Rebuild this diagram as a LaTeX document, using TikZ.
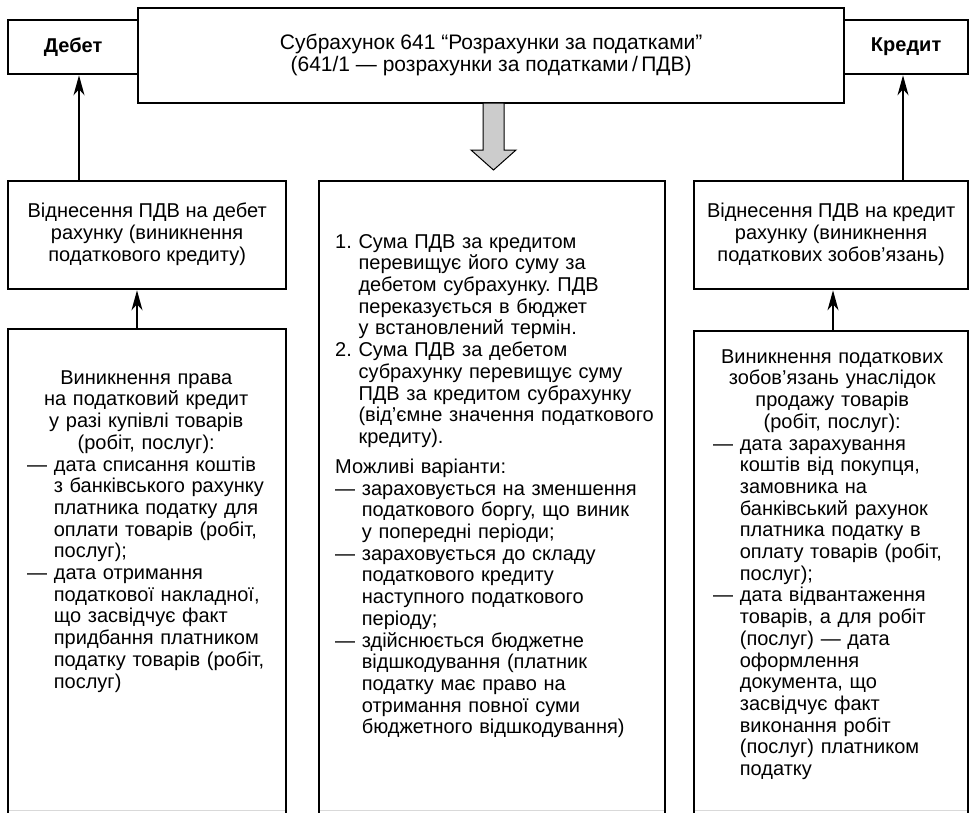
\documentclass[tikz,border=0pt]{standalone}
\usepackage{fontspec}
\setmainfont{Liberation Sans}
\usetikzlibrary{arrows.meta}
\frenchspacing
\begin{document}
\begin{tikzpicture}[x=1pt,y=-1pt,
  box/.style={draw=black,line width=2.3pt,fill=white,inner sep=0pt,anchor=north west,
    font=\fontsize{20}{21.7}\selectfont\frenchspacing,align=center},
  lbl/.style={inner sep=0pt,anchor=north west,align=left,
    font=\fontsize{20}{21.7}\selectfont\frenchspacing},
  conn/.style={line width=1.3pt,-{Stealth[length=20pt,width=11pt,inset=6pt]}},
  bigarrow/.style={draw=black,line width=1pt,fill=black!20,line join=miter},
  cutedge/.style={draw=black!15,line width=1pt}
]
\useasboundingbox (0,0) rectangle (971,812);

% top row
\node[box,minimum width=130pt,minimum height=54pt,font=\fontsize{20}{21.7}\selectfont\bfseries] (debet) at (7,19) {Дебет};
\node[box,minimum width=124pt,minimum height=54pt,font=\fontsize{20}{21.7}\selectfont\bfseries] (kredit) at (843,19) {Кредит};
\node[box,minimum width=706pt,minimum height=95pt,font=\fontsize{21}{22}\selectfont] (main) at (137,7)
  {\strut Субрахунок 641 “Розрахунки за податками”\\(641/1 — розрахунки за податками\,/\,ПДВ)\strut};

% second row
\node[box,minimum width=278pt,minimum height=108pt] (lb2) at (7,180)
  {\strut Віднесення ПДВ на дебет\\рахунку (виникнення\\податкового кредиту)\strut};
\node[box,minimum width=274pt,minimum height=108pt] (rb2) at (693,180)
  {\strut Віднесення ПДВ на кредит\\рахунку (виникнення\\податкових зобов’язань)\strut};

% tall boxes (cut by the lower edge)
\node[box,minimum width=278pt,minimum height=500pt] (lb3) at (7,328) {};
\node[box,minimum width=346pt,minimum height=650pt] (mb) at (318,180) {};
\node[box,minimum width=274pt,minimum height=500pt] (rb3) at (693,330) {};
\draw[cutedge] ([xshift=2pt]lb3.west |- 0,810.5) -- ([xshift=-2pt]lb3.east |- 0,810.5);
\draw[cutedge] ([xshift=2pt]mb.west |- 0,810.5) -- ([xshift=-2pt]mb.east |- 0,810.5);
\draw[cutedge] ([xshift=2pt]rb3.west |- 0,810.5) -- ([xshift=-2pt]rb3.east |- 0,810.5);

% texts in tall boxes
\node[lbl,text width=262pt] (lt) at (27,368.8) {%
\strut\makebox[238pt]{Виникнення права}\\
\makebox[238pt]{на податковий кредит}\\
\makebox[238pt]{у разі купівлі товарів}\\
\makebox[238pt]{(робіт, послуг):}\\
— дата списання коштів\\
\hphantom{— }з банківського рахунку\\
\hphantom{— }платника податку для\\
\hphantom{— }оплати товарів (робіт,\\
\hphantom{— }послуг);\\
— дата отримання\\
\hphantom{— }податкової накладної,\\
\hphantom{— }що засвідчує факт\\
\hphantom{— }придбання платником\\
\hphantom{— }податку товарів (робіт,\\
\hphantom{— }послуг)};

\node[lbl,text width=325pt] (mt) at (335,232.8) {%
\strut 1. Сума ПДВ за кредитом\\
\hphantom{1. }перевищує його суму за\\
\hphantom{1. }дебетом субрахунку. ПДВ\\
\hphantom{1. }переказується в бюджет\\
\hphantom{1. }у встановлений термін.\\
2. Сума ПДВ за дебетом\\
\hphantom{1. }субрахунку перевищує суму\\
\hphantom{1. }ПДВ за кредитом субрахунку\\
\hphantom{1. }(від’ємне значення податкового\\
\hphantom{1. }кредиту).\\[8.3pt]
Можливі варіанти:\\
— зараховується на зменшення\\
\hphantom{— }податкового боргу, що виник\\
\hphantom{— }у попередні періоди;\\
— зараховується до складу\\
\hphantom{— }податкового кредиту\\
\hphantom{— }наступного податкового\\
\hphantom{— }періоду;\\
— здійснюється бюджетне\\
\hphantom{— }відшкодування (платник\\
\hphantom{— }податку має право на\\
\hphantom{— }отримання повної суми\\
\hphantom{— }бюджетного відшкодування)};

\node[lbl,text width=250pt] (rt) at (713,347.8) {%
\strut\makebox[238pt]{Виникнення податкових}\\
\makebox[238pt]{зобов’язань унаслідок}\\
\makebox[238pt]{продажу товарів}\\
\makebox[238pt]{(робіт, послуг):}\\
— дата зарахування\\
\hphantom{— }коштів від покупця,\\
\hphantom{— }замовника на\\
\hphantom{— }банківський рахунок\\
\hphantom{— }платника податку в\\
\hphantom{— }оплату товарів (робіт,\\
\hphantom{— }послуг);\\
— дата відвантаження\\
\hphantom{— }товарів, а для робіт\\
\hphantom{— }(послуг) — дата\\
\hphantom{— }оформлення\\
\hphantom{— }документа, що\\
\hphantom{— }засвідчує факт\\
\hphantom{— }виконання робіт\\
\hphantom{— }(послуг) платником\\
\hphantom{— }податку};

% connectors
\coordinate (da) at ([xshift=72pt]lb2.north west);
\coordinate (ka) at ([xshift=210pt]rb2.north west);
\coordinate (la) at ([xshift=130pt]lb3.north west);
\coordinate (ra) at ([xshift=140pt]rb3.north west);
\draw[conn] (da) -- (da |- debet.south);
\draw[conn] (ka) -- (ka |- kredit.south);
\draw[conn] (la) -- (la |- lb2.south);
\draw[conn] (ra) -- (ra |- rb2.south);

% block arrow from main account to the middle box
\draw[bigarrow] (483,103) -- (504,103) -- (504,150) -- (516,150) -- (493.5,170)
  -- (471,150) -- (483,150) -- cycle;
\end{tikzpicture}
\end{document}
